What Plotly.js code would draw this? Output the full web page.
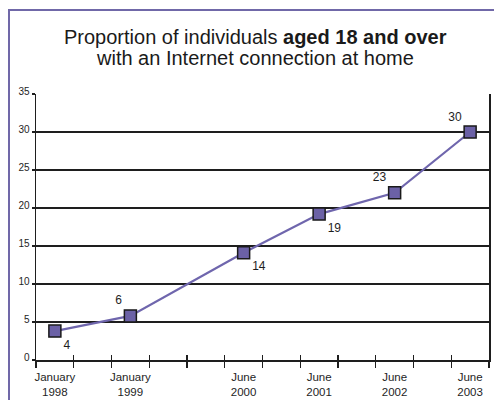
<!DOCTYPE html>
<html><head><meta charset="utf-8">
<script src="https://cdn.plot.ly/plotly-3.0.1.min.js"></script>
<style>
body{margin:0;background:#fff;}
#wrap{position:relative;width:494px;height:400px;overflow:hidden;background:#fff;}
#frame{position:absolute;left:8px;top:9px;width:700px;height:700px;border-left:2px solid #7068a8;border-top:2px solid #7068a8;pointer-events:none;}
</style>
</head><body>
<div id="wrap"><div id="chart" style="width:494px;height:400px"></div><div id="frame"></div></div>
<script>
// Half-year slots along the time axis
const periods = ['Jan 1998','Jul 1998','Jan 1999','Jul 1999','Jan 2000','Jun 2000','Jan 2001','Jun 2001','Jan 2002','Jun 2002','Jan 2003','Jun 2003'];
// Survey points
const pointPeriods = ['Jan 1998','Jan 1999','Jun 2000','Jun 2001','Jun 2002','Jun 2003'];
const values = [3.8, 5.8, 14.1, 19.2, 22.0, 30.0];
const valueLabels = ['4','6','14','19','23','30'];
const tickLabels = ['January<br>1998','January<br>1999','June<br>2000','June<br>2001','June<br>2002','June<br>2003'];
const yTicks = [0,5,10,15,20,25,30,35];
const titleLines = ['Proportion of individuals <b>aged 18 and over</b>', 'with an Internet connection at home'];

const labelPositions = ['bottom right','top left','bottom right','bottom right','top left','top left'];

const xIdx = pointPeriods.map(p => periods.indexOf(p));
const boundaries = periods.map((_, i) => i - 0.5).concat([periods.length - 0.5]);
const xRange = [-0.5, periods.length - 0.5];

const font = 'Liberation Sans, Arial, sans-serif';
const ink = '#1e1e1e';

const M = {l: 36, r: 5, t: 94, b: 40}, H = 400;
const plotH = H - M.t - M.b;
const py = p => (H - M.b - p) / plotH; // pixel row -> paper y

const trace = {
  x: xIdx, y: values, text: valueLabels,
  type: 'scatter', mode: 'lines+markers+text',
  textposition: labelPositions,
  textfont: {family: font, size: 12, color: ink},
  line: {color: '#6f66ad', width: 2.2},
  marker: {symbol: 'square', size: 12, color: '#6b61a6', line: {color: '#1a1a1a', width: 1.5}},
  cliponaxis: false, hoverinfo: 'skip', showlegend: false
};
// invisible companions so the overlay tick axes are drawn
const ghost = ax => ({x: xIdx, y: values, xaxis: ax, type: 'scatter', mode: 'markers',
  marker: {opacity: 0}, hoverinfo: 'skip', showlegend: false});

const layout = {
  width: 494, height: 400,
  margin: M,
  paper_bgcolor: 'rgba(0,0,0,0)', plot_bgcolor: '#fff',
  font: {family: font, color: ink},
  annotations: [
    {text: titleLines[0], xref: 'paper', yref: 'paper', x: (255 - M.l) / (494 - M.l - M.r), y: py(37),
     xanchor: 'center', yanchor: 'middle', showarrow: false, font: {family: font, size: 20, color: '#1a1a1a'}},
    {text: titleLines[1], xref: 'paper', yref: 'paper', x: (255 - M.l) / (494 - M.l - M.r), y: py(58),
     xanchor: 'center', yanchor: 'middle', showarrow: false, font: {family: font, size: 20, color: '#1a1a1a'}}
  ],
  xaxis: {
    type: 'linear', range: xRange, tickmode: 'array', tickvals: xIdx, ticktext: tickLabels,
    ticks: '', tickfont: {family: font, size: 11.5, color: ink}, ticklabelstandoff: 6,
    showgrid: false, zeroline: false, showline: true, linecolor: ink, linewidth: 1.5
  },
  xaxis2: {
    type: 'linear', range: xRange, overlaying: 'x', anchor: 'y', side: 'bottom',
    tickmode: 'array', tickvals: boundaries, showticklabels: false,
    ticks: 'outside', ticklen: 7, tickwidth: 1.3, tickcolor: ink,
    showgrid: false, zeroline: false, showline: false
  },
  xaxis3: {
    type: 'linear', range: xRange, overlaying: 'x', anchor: 'y', side: 'bottom',
    tickmode: 'array', tickvals: boundaries, showticklabels: false,
    ticks: 'inside', ticklen: 5, tickwidth: 1.3, tickcolor: ink,
    showgrid: false, zeroline: false, showline: false
  },
  yaxis: {
    range: [0, 35], tickmode: 'array', tickvals: yTicks,
    ticks: 'outside', ticklen: 3, tickwidth: 1.3, tickcolor: ink,
    tickfont: {family: font, size: 10, color: ink}, ticklabelshift: -3,
    showgrid: true, gridcolor: ink, gridwidth: 1.4,
    zeroline: false, showline: true, linecolor: ink, linewidth: 1.5, mirror: true
  }
};

Plotly.newPlot('chart', [ghost('x2'), ghost('x3'), trace], layout, {staticPlot: true, displayModeBar: false});
</script>
</body></html>
